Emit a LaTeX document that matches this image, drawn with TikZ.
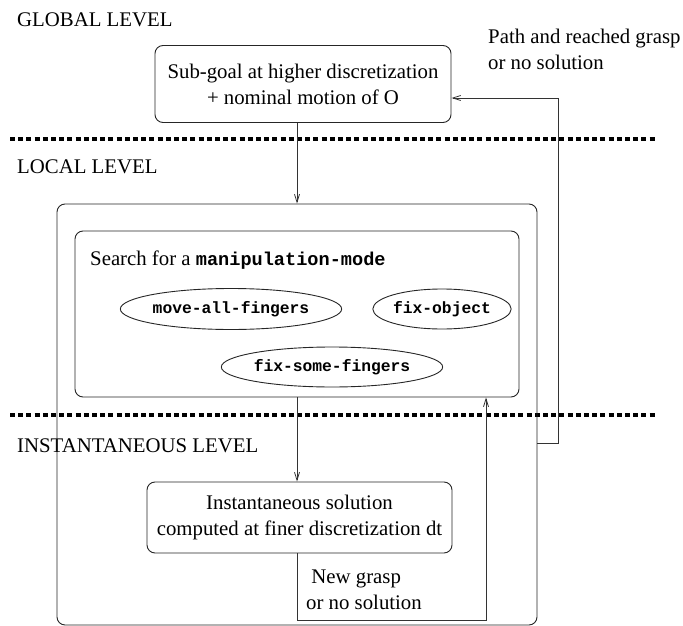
\documentclass[tikz,border=0pt]{standalone}
\usepackage{fontspec}
\setmainfont{Liberation Serif}
\setmonofont{Liberation Mono}
\usetikzlibrary{arrows.meta,shapes.geometric}
\begin{document}
\begin{tikzpicture}[x=1pt,y=-1pt,
  every node/.style={font=\fontsize{20.8}{26}\selectfont},
  box/.style={draw=black!85, line width=0.9pt, rounded corners=8pt, inner sep=0pt},
  mode/.style={draw=black!85, ellipse, line width=0.9pt, inner sep=0pt, font=\fontsize{16.3}{20}\selectfont\ttfamily\bfseries},
  lbl/.style={anchor=west, inner sep=0pt, align=left},
  arr/.style={draw=black!80, line width=0.8pt, -{Straight Barb[length=8pt,width=5pt]}},
  lev/.style={line width=3.2pt, dash pattern=on 5pt off 3.2pt}]
\useasboundingbox (0,0) rectangle (683,626);
% level labels
\node[lbl] (gl) at (17,20) {GLOBAL LEVEL};
\node[lbl] (ll) at (17,167) {LOCAL LEVEL};
\node[lbl] (il) at (17,446) {INSTANTANEOUS LEVEL};
% separators
\coordinate (s1a) at (10,139); \coordinate (s1b) at (657,139);
\coordinate (s2a) at (10,415); \coordinate (s2b) at (657,415);
\draw[lev] (s1a) -- (s1b);
\draw[lev] (s2a) -- (s2b);
% boxes
\node[box, minimum width=296pt, minimum height=77pt, align=center] (top) at (303,84)
  {Sub-goal at higher discretization\\+ nominal motion of O};
\node[box, minimum width=480pt, minimum height=421pt] (outer) at (297,414.5) {};
\node[box, minimum width=444pt, minimum height=166pt] (inner) at (297,314) {};
\node[lbl] (search) at (90,260) {Search for a {\fontsize{18.6}{22}\selectfont\ttfamily\bfseries manipulation-mode}};
\node[mode, minimum width=204pt, minimum height=41pt] (m1) at (231,309) {move-all-fingers};
\node[mode, minimum width=124pt, minimum height=40pt] (m2) at (442,309) {fix-object};
\node[mode, minimum width=204pt, minimum height=40pt] (m3) at (332,367) {fix-some-fingers};
\node[box, minimum width=305pt, minimum height=71pt, align=center] (inst) at (299.5,517.5)
  {Instantaneous solution\\computed at finer discretization dt};
% labels on feedback paths
\node[lbl] (pr) at (488,49) {Path and reached grasp\\or no solution};
\node[lbl] (ng) at (306,590) {\ New grasp\\or no solution};
% connectors
\draw[arr] (outer.north |- top.south) -- (outer.north);
\draw[arr] (inner.south) -- (inner.south |- inst.north);
\coordinate (fb1) at (486,620);
\draw[arr] (inner.south |- inst.south) -- (inner.south |- fb1) -- (fb1) -- (fb1 |- inner.south);
\coordinate (fb2) at (558,443);
\coordinate (fb2t) at (558,98);
\draw[arr] (outer.east |- fb2) -- (fb2) -- (fb2t) -- (top.east |- fb2t);
\end{tikzpicture}
\end{document}
